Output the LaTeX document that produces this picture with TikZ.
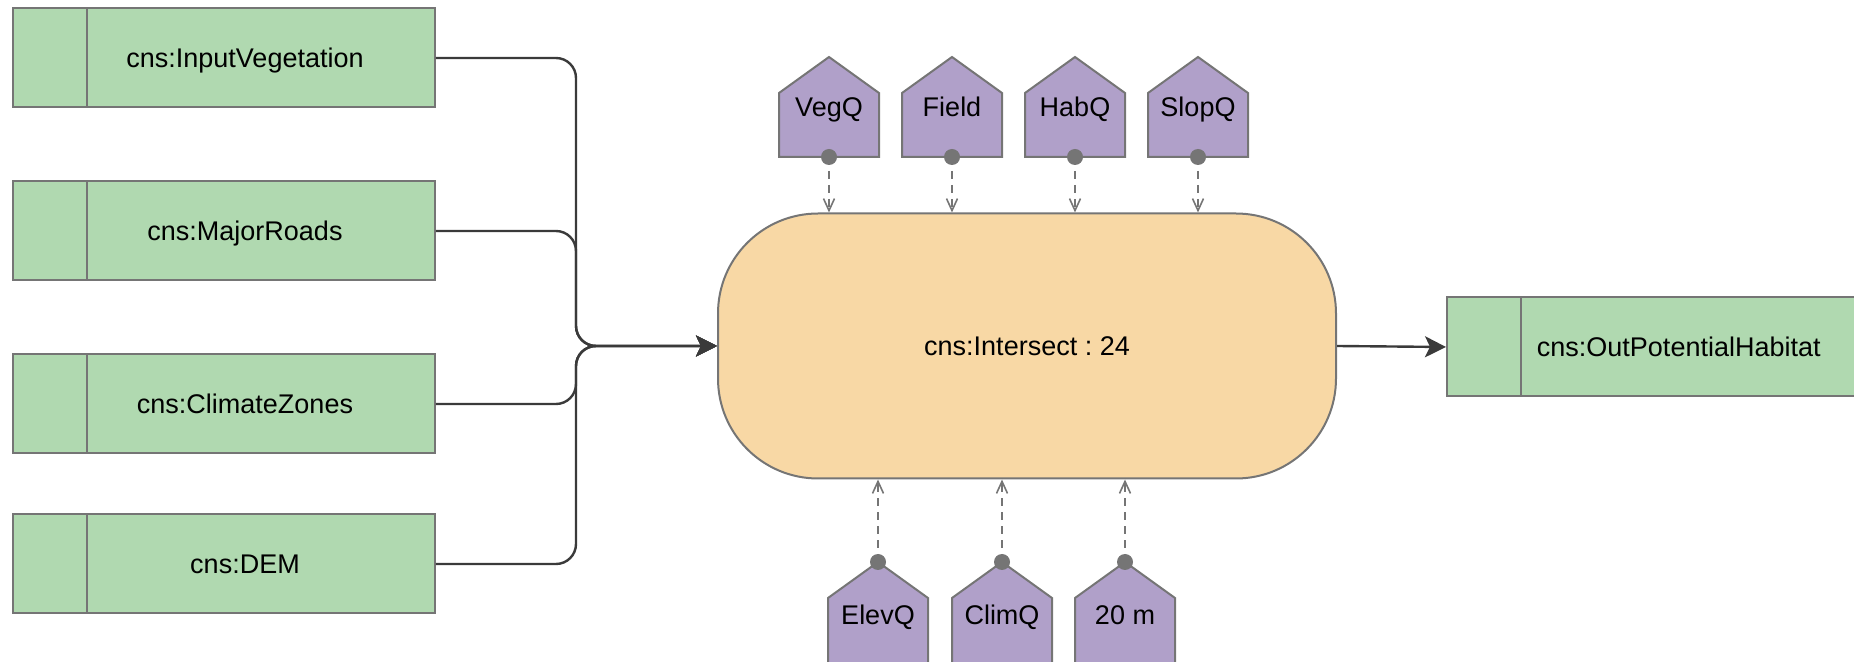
\documentclass[tikz,border=0pt]{standalone}
\usepackage{fontspec}
\setmainfont{Liberation Sans}
\usetikzlibrary{arrows.meta}
\frenchspacing

\definecolor{layergreen}{RGB}{176,217,176}
\definecolor{toolsand}{RGB}{248,216,165}
\definecolor{parampurple}{RGB}{176,160,201}
\definecolor{rimgray}{RGB}{117,117,117}
\definecolor{flowgray}{RGB}{58,58,58}

\tikzset{
  label font/.style={font=\fontsize{13.5}{16}\selectfont, text height=9.6pt, text depth=0pt},
  layer/.style={draw=rimgray, fill=layergreen, line width=1pt, inner sep=0pt,
    minimum width=210.75pt, minimum height=49.5pt, label font,
    execute at begin node={\hspace*{21pt}}},
  tool/.style={draw=rimgray, fill=toolsand, line width=1pt, rounded corners=50pt,
    minimum width=309pt, minimum height=132.5pt, label font},
  param/.style={draw=rimgray, fill=parampurple, line width=1pt},
  paramtext/.style={label font, inner sep=0pt},
  flow/.style={draw=flowgray, line width=1.2pt, rounded corners=10pt,
    -{Stealth[length=10.5pt,width=10.5pt,inset=2.5pt]}},
  pin/.style={draw=rimgray, line width=0.8pt, dash pattern=on 4pt off 3pt,
    -{Straight Barb[length=6pt,width=5.5pt]}}
}

\begin{document}
\begin{tikzpicture}[x=0.5pt, y=-0.5pt]
\useasboundingbox (0,0) rectangle (1854,662);
\clip (0,0) rectangle (1854,662);

\node[layer] (veg) at (224,58) {cns:InputVegetation};
\node[layer] (roads) at (224,231) {cns:MajorRoads};
\node[layer] (climate) at (224,404) {cns:ClimateZones};
\node[layer] (dem) at (224,564) {cns:DEM};
\node[layer] (habitat) at (1657.75,347) {cns:OutPotentialHabitat};
\foreach \nm in {veg,roads,climate,dem,habitat}
  \draw[rimgray, line width=1pt] ([xshift=37.5pt]\nm.north west) -- ([xshift=37.5pt]\nm.south west);

\node[tool] (intersect) at (1027,346) {cns:Intersect : 24};

\coordinate (join) at (576,346);
\foreach \nm in {veg,roads,climate,dem}
  \draw[flow] (\nm.east) -| (join) -- (intersect.west);
\draw[flow] (intersect.east) -- (habitat.west);

\foreach \x/\lbl/\nm in {829/VegQ/vegq, 952/Field/field, 1075/HabQ/habq, 1198/SlopQ/slopq}{
  \draw[param] (\x-50,157) -- (\x-50,93) -- (\x,57) -- (\x+50,93) -- (\x+50,157) -- cycle;
  \node[paramtext] (\nm) at (\x,106.5) {\lbl};
  \coordinate (\nm-pin) at (\x,157);
  \draw[pin] (\nm-pin) -- (\nm-pin |- intersect.north);
  \fill[rimgray] (\nm-pin) circle (4pt);
}

\foreach \x/\lbl/\nm in {878/ElevQ/elevq, 1002/ClimQ/climq, 1125/20 m/cellsize}{
  \draw[param] (\x-50,665) -- (\x-50,598) -- (\x,562) -- (\x+50,598) -- (\x+50,665) -- cycle;
  \node[paramtext] (\nm) at (\x,615) {\lbl};
  \coordinate (\nm-pin) at (\x,562);
  \draw[pin] (\nm-pin) -- (\nm-pin |- intersect.south);
  \fill[rimgray] (\nm-pin) circle (4pt);
}
\end{tikzpicture}
\end{document}
